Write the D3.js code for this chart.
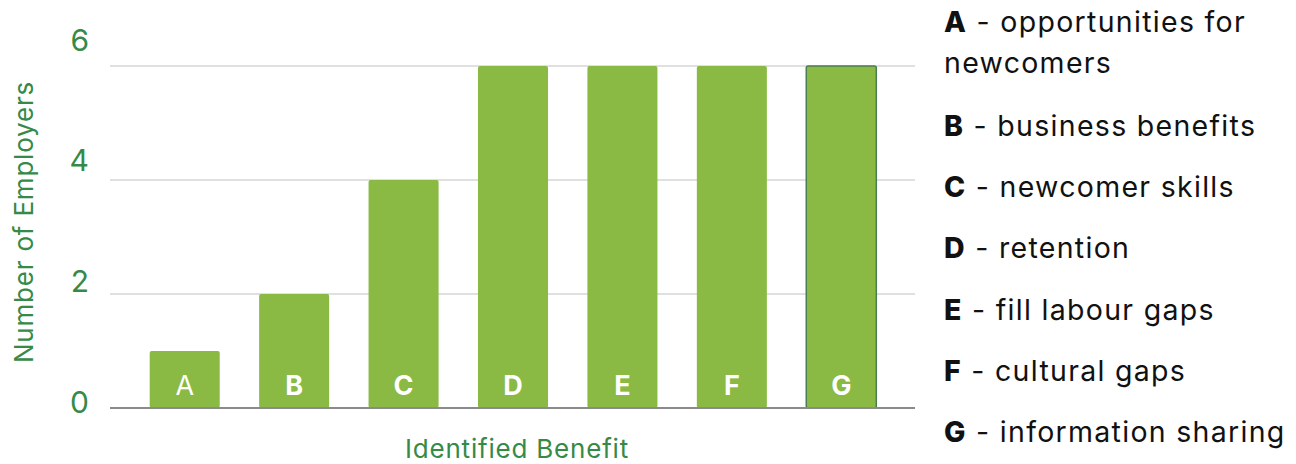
<!DOCTYPE html>
<html><head><meta charset="utf-8">
<script src="https://cdn.jsdelivr.net/npm/d3@7"></script>
<style>body{margin:0;background:#fff}svg{display:block}</style>
</head><body>
<svg id="c" width="1296" height="464"></svg>
<script>
const categories = ["A","B","C","D","E","F","G"];
const values = [1,2,4,6,6,6,6];
const yTicks = [0,2,4,6];
const legendLetters = ["A","B","C","D","E","F","G"];
const legendTexts = [["opportunities for","newcomers"],["business benefits"],["newcomer skills"],["retention"],["fill labour gaps"],["cultural gaps"],["information sharing"]];
const legendY = [22,126,187,248,310,371,432];

const svg = d3.select("#c");
const FONT = "Inter, 'Open Sans', sans-serif";
const green = "#8aba43";
const textGreen = "#358a47";

const x = d3.scaleBand().domain(categories).range([130, 896]).paddingInner(0.36).paddingOuter(0.18);
const y = d3.scaleLinear().domain([0,6]).range([408,66]);
const yLab = d3.scaleLinear().domain([0,6]).range([402,40]);

// gridlines
svg.append("g").selectAll("line").data(yTicks.filter(d=>d>0)).join("line")
  .attr("x1",110).attr("x2",915).attr("y1",d=>y(d)).attr("y2",d=>y(d))
  .attr("stroke","#e0e0e0").attr("stroke-width",2);

// bars
svg.append("g").selectAll("rect").data(categories).join("rect")
  .attr("x",d=>x(d)).attr("width",x.bandwidth())
  .attr("y",(d,i)=>y(values[i])).attr("height",(d,i)=>y(0)-y(values[i]))
  .attr("rx",2).attr("fill",green)
  .attr("stroke",d=>d==="G"?"#4c7d52":"none").attr("stroke-width",1.5);

// baseline
svg.append("line").attr("x1",110).attr("x2",915).attr("y1",y(0)).attr("y2",y(0))
  .attr("stroke","#8a8a8a").attr("stroke-width",2);

// bar labels
svg.append("g").selectAll("text").data(categories).join("text")
  .attr("x",d=>x(d)+x.bandwidth()/2).attr("y",395)
  .attr("text-anchor","middle").attr("fill","#fff")
  .attr("font-family",FONT).attr("font-size",27)
  .attr("font-weight",d=>d==="A"?400:700).text(d=>d);

// y tick labels
svg.append("g").selectAll("text").data(yTicks).join("text")
  .attr("x",89).attr("y",d=>yLab(d)).attr("dy","0.36em")
  .attr("text-anchor","end").attr("fill",textGreen)
  .attr("font-family",FONT).attr("font-size",30).text(d=>d);

// axis titles
svg.append("text").attr("transform","translate(33,222) rotate(-90)")
  .attr("text-anchor","middle").attr("fill",textGreen)
  .attr("font-family",FONT).attr("font-size",26).attr("letter-spacing",0.8).text("Number of Employers");
svg.append("text").attr("x",517).attr("y",458)
  .attr("text-anchor","middle").attr("fill",textGreen)
  .attr("font-family",FONT).attr("font-size",26).attr("letter-spacing",0.8).text("Identified Benefit");

// legend
const lg = svg.append("g").selectAll("g").data(legendLetters).join("g");
lg.each(function(d,i){
  const g = d3.select(this);
  const t = g.append("text").attr("x",944).attr("y",legendY[i]).attr("dy","0.36em")
    .attr("font-family",FONT).attr("font-size",28.5).attr("letter-spacing",1.3).attr("fill","#111");
  t.append("tspan").attr("font-weight",800).text(d);
  t.append("tspan").attr("font-weight",400).text(" - " + legendTexts[i][0]);
  if (legendTexts[i].length>1){
    g.append("text").attr("x",944).attr("y",legendY[i]+41).attr("dy","0.36em")
      .attr("font-family",FONT).attr("font-size",28.5).attr("letter-spacing",1.3).attr("fill","#111").text(legendTexts[i][1]);
  }
});
</script>
</body></html>
